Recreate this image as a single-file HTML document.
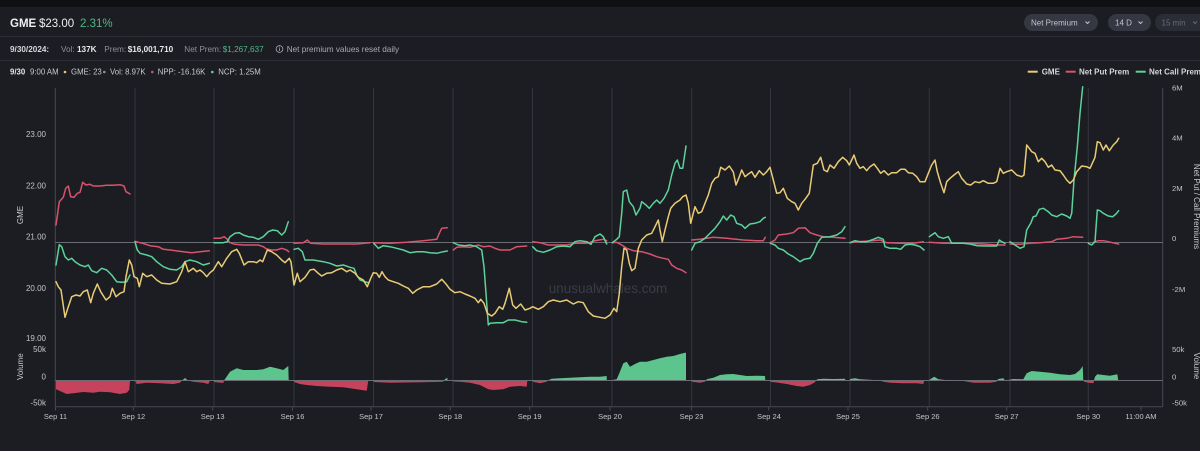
<!DOCTYPE html>
<html><head><meta charset="utf-8"><style>
html,body{margin:0;padding:0;background:#1b1d22;}
svg{display:block;font-family:"Liberation Sans",sans-serif;}
</style></head><body>
<svg width="1200" height="451" viewBox="0 0 1200 451" xmlns="http://www.w3.org/2000/svg">
<rect x="0" y="0" width="1200" height="451" fill="#1b1d22"/>
<rect x="0" y="0" width="1200" height="7" fill="#0f1013"/>
<line x1="0" y1="36.5" x2="1200" y2="36.5" stroke="#2b2e35" stroke-width="1"/>
<line x1="0" y1="60.5" x2="1200" y2="60.5" stroke="#2b2e35" stroke-width="1"/>

<!-- header row 1 -->
<text x="10" y="27" font-size="11.5" fill="#eceef1" font-weight="bold">GME</text>
<text x="39" y="27" font-size="11.5" fill="#eceef1">$23.00</text>
<text x="80" y="27" font-size="11.5" fill="#4fb987">2.31%</text>

<!-- pills -->
<rect x="1024" y="14" width="74" height="17" rx="8.5" fill="#353843"/>
<text x="1031" y="25.6" font-size="8" fill="#c3c5cb">Net Premium</text>
<path d="M1085.5 21.5 l2 2 l2 -2" stroke="#c3c5cb" stroke-width="1" fill="none"/>
<rect x="1108" y="14" width="43" height="17" rx="8.5" fill="#353843"/>
<text x="1115" y="25.6" font-size="8" fill="#c3c5cb">14 D</text>
<path d="M1138.5 21.5 l2 2 l2 -2" stroke="#c3c5cb" stroke-width="1" fill="none"/>
<rect x="1155" y="14" width="52" height="17" rx="8.5" fill="#2a2d35"/>
<text x="1161.5" y="25.6" font-size="8" fill="#686b73">15 min</text>
<path d="M1193 21.5 l2 2 l2 -2" stroke="#686b73" stroke-width="1" fill="none"/>

<!-- header row 2 -->
<g font-size="8.2">
<text x="10" y="52" fill="#d4d6da" font-weight="bold">9/30/2024:</text>
<text x="61" y="52" fill="#8e9198">Vol:</text>
<text x="77" y="52" fill="#e6e7ea" font-weight="bold">137K</text>
<text x="104.3" y="52" fill="#8e9198">Prem:</text>
<text x="127.7" y="52" fill="#e6e7ea" font-weight="bold">$16,001,710</text>
<text x="184.3" y="52" fill="#8e9198">Net Prem:</text>
<text x="222.7" y="52" fill="#4fb987">$1,267,637</text>
<circle cx="279.5" cy="49" r="3.4" fill="none" stroke="#a8abb1" stroke-width="0.8"/>
<line x1="279.5" y1="48.3" x2="279.5" y2="51" stroke="#a8abb1" stroke-width="0.8"/>
<circle cx="279.5" cy="47" r="0.45" fill="#a8abb1"/>
<text x="286.7" y="52" fill="#a8abb1">Net premium values reset daily</text>
</g>

<!-- header row 3 -->
<g font-size="7.8">
<text x="10" y="74.7" fill="#e6e7ea" font-weight="bold">9/30</text>
<text x="30" y="74.7" fill="#c8cad0">9:00 AM</text>
<circle cx="65" cy="72" r="1.3" fill="#e9c873"/>
<text x="71" y="74.7" fill="#c8cad0">GME: 23</text>
<circle cx="104.3" cy="72" r="1.3" fill="#8e9198"/>
<text x="110" y="74.7" fill="#c8cad0">Vol: 8.97K</text>
<circle cx="152.3" cy="72" r="1.3" fill="#d9536d"/>
<text x="157.7" y="74.7" fill="#c8cad0">NPP: -16.16K</text>
<circle cx="212.3" cy="72" r="1.3" fill="#5dd29a"/>
<text x="218.3" y="74.7" fill="#c8cad0">NCP: 1.25M</text>
</g>

<!-- legend -->
<g font-size="8" font-weight="bold" fill="#d4d6da">
<line x1="1027.7" y1="71.7" x2="1037.7" y2="71.7" stroke="#eacb75" stroke-width="2"/>
<text x="1041.7" y="74.5">GME</text>
<line x1="1065.7" y1="71.7" x2="1075.7" y2="71.7" stroke="#d9536d" stroke-width="2"/>
<text x="1079" y="74.5">Net Put Prem</text>
<line x1="1135.7" y1="71.7" x2="1145.7" y2="71.7" stroke="#5dd29a" stroke-width="2"/>
<text x="1149" y="74.5">Net Call Prem</text>
</g>

<!-- gridlines -->
<g stroke="#33363d" stroke-width="1">
<line x1="135" y1="88" x2="135" y2="406.7"/>
<line x1="214" y1="88" x2="214" y2="406.7"/>
<line x1="294" y1="88" x2="294" y2="406.7"/>
<line x1="373.5" y1="88" x2="373.5" y2="406.7"/>
<line x1="453" y1="88" x2="453" y2="406.7"/>
<line x1="532.5" y1="88" x2="532.5" y2="406.7"/>
<line x1="612" y1="88" x2="612" y2="406.7"/>
<line x1="691.7" y1="88" x2="691.7" y2="406.7"/>
<line x1="770.5" y1="88" x2="770.5" y2="406.7"/>
<line x1="850" y1="88" x2="850" y2="406.7"/>
<line x1="929.3" y1="88" x2="929.3" y2="406.7"/>
<line x1="1010" y1="88" x2="1010" y2="406.7"/>
<line x1="1088.3" y1="88" x2="1088.3" y2="406.7"/>
</g>
<g stroke="#474a52" stroke-width="1">
<line x1="55.3" y1="88" x2="55.3" y2="406.7"/>
<line x1="1162.7" y1="88" x2="1162.7" y2="406.7"/>
<line x1="55.3" y1="406.7" x2="1162.7" y2="406.7"/>
</g>

<!-- watermark -->
<text x="608" y="293" font-size="13.5" fill="#3a3d45" text-anchor="middle">unusualwhales.com</text>

<!-- zero lines -->
<line x1="55.3" y1="242.5" x2="1162.7" y2="242.5" stroke="#6a6d74" stroke-width="1"/>

<!-- volume areas -->
<g fill="#c6435d">
<polygon points="56,380.5 56,389.3 60,391 66.7,394 73.3,393.3 83.3,392 93.3,392.7 100,391.7 110,392.3 120,394 126.7,392.7 129.3,390 130,380.5"/>
<polygon points="135,380.5 136.7,384 146.7,382.7 160,383.3 173.3,384 180,382.7 182,380.5"/>
<polygon points="188,380.5 193.3,381.7 203.3,382.7 208.3,384 210,380.5"/>
<polygon points="214,380.5 214,382 223.3,383 224,380.5"/>
<polygon points="294,380.5 294,382 300,384 306.7,385 316.7,386 330,386.7 343.3,387.3 356.7,389.3 366.7,390.7 368.3,380.5"/>
<polygon points="373.7,380.5 373.7,382 390,382.7 423.3,382.3 443.3,381.7 444,380.5"/>
<polygon points="453.3,380.5 453.3,381.5 460,381.7 470,382.7 480,385 488.3,389.3 493.3,390 503.3,389.3 510,386.7 520,386 526.7,386.7 527.3,380.5"/>
<polygon points="532.7,380.5 532.7,381.7 540,383.3 546.7,381.7 547.5,380.5"/>
<polygon points="691.7,380.5 691.7,381.7 700,382.7 705,381.7 706,380.5"/>
<polygon points="770.3,380.5 770.3,381.7 778.3,382.7 786.7,384 796.7,386 803.3,386.7 810,385 815,382.3 816,380.5"/>
<polygon points="880,380.5 883.3,381.7 890,382.7 903.3,383.3 916.7,383.3 923.3,384 924.3,380.5"/>
<polygon points="955,380.5 963.3,381 973.3,382.7 990,382.7 996.7,381.7 997,380.5"/>
<polygon points="1084,380.5 1084,381.7 1088.3,382.7 1093.3,383.3 1094,380.5"/>
</g>
<g fill="#5ec48d">
<polygon points="182,380.5 185,378 188,380.5"/>
<polygon points="224,380.5 230,371.7 236.7,368.3 243.3,370 256.7,370 263.3,369.3 270,366.7 276.7,368.3 283.3,370 286.7,367.3 288.3,366 288.7,380.5"/>
<polygon points="444,380.5 445,379.3 447.3,377.7 447.5,380.5"/>
<polygon points="547.5,380.5 551.7,378.7 560,378.3 570,377.7 580,377.3 590,376.7 600,376.7 606.7,376 606.7,380.5"/>
<polygon points="612.3,380.5 612.3,380 616.7,379.3 619.3,373.3 623.3,363.3 626.7,361.7 630,366.7 635,364 640,361.7 646.7,361.7 653.3,360 660,358.3 666.7,356.7 673.3,356 680,354 685,352.7 686,352.7 686,380.5"/>
<polygon points="706,380.5 706.7,379.3 713.3,377.7 720,375 726.7,374.3 733.3,374 740,375 746.7,376 756.7,375.7 765,376 765.3,380.5"/>
<polygon points="816,380.5 817.3,379.3 823.3,378.7 833.3,379 845,378.7 845.5,380.5"/>
<polygon points="850,380.5 850,379 855,378.3 860,379.3 873.3,380 874,380.5"/>
<polygon points="929.3,380.5 929.3,380 931.7,378.3 934.3,376.7 938.3,379.3 945,380 946,380.5"/>
<polygon points="997,380.5 998.3,379 1003.3,378.3 1005,380.5"/>
<polygon points="1008.3,380.5 1008.3,380 1013.3,379 1023.3,379.3 1026.7,373.3 1031.7,371 1040,371.7 1050,372.7 1060,374.3 1070,375 1075,374 1080,370 1082.7,366 1083.3,380.5"/>
<polygon points="1094,380.5 1095,376.7 1097.3,374.3 1103.3,375 1110,375.7 1117.3,374.3 1118.3,380.5"/>
</g>
<line x1="55.3" y1="380.5" x2="1162.7" y2="380.5" stroke="#6a6d74" stroke-width="1"/>

<!-- series -->
<g fill="none" stroke-width="1.5" stroke-linejoin="round" stroke-linecap="round">
<g stroke="#d9536d">
<polyline points="56,225 59.3,201.7 63.3,197.3 65.7,188.3 68.3,186 70.7,196.7 74,197.3 77.3,193.3 80,192.3 82.7,182.3 86,185 90,184.3 93.3,186 100,186 106.7,185.3 113.3,185.3 120,184.7 124,186 126,191.7 130,194"/>
<polyline points="135,241.3 140,242.7 145,244 150,245.7 158.3,246.7 163.3,249.3 170,250 183.3,251.7 191.7,252.7 200,251.7 209.3,250.7"/>
<polyline points="214,238.3 220,238.3 224.3,236.7 227.3,239.3 230,242.7 235,244.3 243.3,245 258.3,245 263.3,246.7 266.7,249 271.7,250 276.7,250 281.7,248.3 286.7,250 288.7,251.7"/>
<polyline points="294,243.3 303.3,242.7 307.3,240 310.7,243.3 323.3,244 340,244 356.7,244 370,242.7"/>
<polyline points="373.7,242.7 390,243.3 406.7,242.3 423.3,240.7 436.7,239.3 439.3,233.3 441.7,228.3 447.3,227.7"/>
<polyline points="453.3,250 456.7,247.3 463.3,246.7 470,247.3 478.3,245 483.3,246.7 490,246 495,248.3 500,250 510,250 516.7,246.7 526.7,246"/>
<polyline points="532.7,241.7 540,242.7 548.3,245 556.7,245 566.7,245 575,243.3 586.7,243.3 595,240.7 603.3,239.3 606.7,240.7"/>
<polyline points="612.3,242.7 616.7,242.3 621.7,245 626.7,248.3 633.3,250.7 641.7,251.7 650,254 656.7,256.7 663.3,258.3 668.3,259.3 671.7,265 676.7,268.3 681.7,270 686,272.7"/>
<polyline points="691.7,240 700,239.3 713.3,237.3 726.7,238.3 743.3,240 756.7,240.7 763.3,240.7 765.3,237.3"/>
<polyline points="770.3,242.7 775,240 778.3,235 786.7,234 793.3,232.7 798.3,228.3 805,227.7 810,232.7 816.7,235 823.3,236.7 833.3,237.3 845,238.3"/>
<polyline points="850,242.7 856.7,241.7 870,241 880,240 886.7,242.7 900,243.3 913.3,243.3 923.3,241.7"/>
<polyline points="929.3,242.3 943.3,243.3 963.3,243.3 983.3,244 996.7,245 1005,245"/>
<polyline points="1010,244 1020,244.3 1030,243.3 1040,242.7 1051.7,241.7 1056.7,239.3 1066.7,238.3 1073.3,236.7 1082.7,237.3"/>
<polyline points="1093.3,242.3 1098.3,240.7 1103.3,240.7 1108.3,241.7 1115,243.3 1118.7,244"/>
</g>
<g stroke="#5dd29a">
<polyline points="56,265 59.3,244.7 61.7,246.7 65,256.7 68.3,260 71.7,258.3 75,261.7 80,265 85,266.7 88.3,265 91.7,270.7 96.7,272.7 101.7,268.3 106.7,270 111.7,275 116.7,281.7 121.7,282.3 126.7,281.7 128.3,278.3 130,275"/>
<polyline points="135,241.7 137.3,250 140,253.3 146.7,255 151.7,256.7 156.7,261.7 163.3,266.7 170,269.3 176.7,270 181.7,266.7 185,261.7 190,260 196.7,261.7 203.3,265 209.3,263.3"/>
<polyline points="214,242.7 223.3,242.7 227.3,241.7 230,236.7 235,233.3 239.3,232.7 243.3,235 248.3,236.7 253.3,237.3 258.3,239.3 263.3,236.7 268.3,231.7 272.7,230 277.3,230.7 281.7,235 285,231.7 288.3,221.7"/>
<polyline points="294,249.3 298.3,248.3 302.3,251.7 305,260 313.3,260 323.3,261.7 330,263.3 336.7,266 343.3,265 350,267.3 354,268.3 356.7,275 360,280 365,281.7 368.3,282.7"/>
<polyline points="373.7,243.3 378.3,248.3 383.3,245.7 390,246.7 396.7,248.3 403.3,250 410,252.7 416.7,251.7 423.3,251.7 430,252.7 436.7,253.3 443.3,251.7 447.3,251"/>
<polyline points="453.3,242.7 458.3,245 465,245.7 470,245 476.7,246.7 481.7,250 484,266.7 486,293.3 488.3,325 490,323.3 496.7,322.7 503.3,322.7 508.3,320 515,320 521.7,321.7 526.7,322.3"/>
<polyline points="532.7,246.7 536.7,250.7 543.3,252.3 550,250 556.7,246.7 563.3,246 570,246.7 575,241.7 580,240.7 586.7,241.7 591,244.3 595,236.7 600,234 603.3,236.7 606.7,244"/>
<polyline points="612.3,242.7 616.7,239.3 619.3,236.7 621.7,213.3 623.3,191.7 626.7,190 629.3,201.7 633.3,206.7 636,215 640,208.3 641.7,201.7 646,205 649.3,208.3 653.3,203.3 656.7,200 660,203.3 664,198.3 668.3,190 671.7,175 675,163.3 677.3,160 680,168.3 682.7,168.3 686,146"/>
<polyline points="691.7,250 695,243.3 700,241.7 705,238.3 710,233.3 715,228.3 720,221.7 723.3,216 726.7,220 730.7,215 734,216.7 736.7,223.3 741.7,225 745,228.3 750,224 755,223.3 760,221.7 763.3,218.3 765.3,217.3"/>
<polyline points="770.3,243.3 775,245 778.3,248.3 783.3,250 788.3,254 793.3,256.7 800,261.7 804,259.3 810,258.3 813.3,253.3 817.3,243.3 821.7,237.3 830,236.7 836.7,235 841.7,231.7 845,226.7"/>
<polyline points="850,242.7 855,240.7 860,241.7 866.7,241.7 873.3,239.3 878.3,237.3 883.3,239.3 885,246.7 890,248.3 896.7,248.3 900.7,249.3 905,245 910,244.3 915,245 920,246.7 924,250"/>
<polyline points="929.3,236.7 931.7,235 935,232.7 938.3,236.7 943.3,238.3 948.3,236.7 951.7,243.3 956.7,243.3 963.3,243.3 970,244 976.7,245.7 986.7,246 996.7,246 999.3,240 1001.7,241.7 1005,243.3"/>
<polyline points="1010,241.7 1015,245 1020,248.3 1024,246.7 1026.7,230 1030.7,223.3 1033.3,216.7 1036,216 1039.3,209.3 1043.3,208.3 1048.3,211.7 1051.7,215 1056.7,216.7 1061.7,214 1066.7,216 1070,218.3 1071.7,213.3 1074,180 1077.3,146.7 1080,113.3 1082.7,86.7"/>
<polyline points="1088.3,243.3 1091.7,245 1095,241.7 1097.3,210 1100,210.7 1103.3,213.3 1108.3,216 1112.7,216.7 1116,214 1118.7,210.7"/>
</g>
<polyline stroke="#eacb75" points="56,281.7 58.3,286.7 61,290 65,317.3 68.3,306.7 71.7,296.7 76,295 80,296 83.3,291.7 87.3,290 90.7,302.7 93.3,293.3 97.3,284 100.7,291.7 106,300 110,296.7 112.3,288.3 116,296.7 120,293.3 124,291.7 126,276.7 129.3,260 131.7,265 134,276.7 137.3,278.3 139.3,286.7 142.7,273.3 146.7,276.7 151.7,275 156.7,280 161.7,283.3 170,284 176.7,281.7 181.7,271.7 185,261.7 188.3,271.7 193.3,268.3 196.7,271.7 200,270 203.3,272.7 206.7,276.7 210,272.7 213.3,270 218.3,261.7 221.7,266.7 226.7,258.3 231.7,251.7 236.7,249.3 239.3,253.3 244,265 248.3,261.7 253.3,261.7 256.7,262.7 260,260 262.7,261.7 267.3,250 271.7,251.7 276.7,255 281.7,260 285,262.7 289.3,258.3 291,262 294,285 297.3,273.3 300,281.7 305,277.3 310,270 314,269.3 318.3,273.3 321.7,276 326.7,273.3 331.7,272.7 336.7,270 341.7,268.3 346.7,271.7 350,270 355,273.3 358.3,277.3 363.3,280 367.3,286.7 370.7,278.3 373.3,272.7 376.7,273.3 379.3,277.3 382,271.7 385,276.7 388.3,280 393.3,281.7 398.3,283.3 403.3,286 408.3,288.3 412.7,293.3 416.7,290 420,288.3 423.3,286.7 430,286.7 436.7,284 441.7,279.3 446,284 450,289.3 455,292.7 460,291.7 465,294 470,296 475,298.3 478.3,302.7 480.7,299.3 484,303.3 487.3,313.3 491.7,316 495,313.3 499.3,306.7 502.7,309.3 505,303.3 509.3,288.3 512.7,305 516,308.3 520.7,304 525,310 530,308.3 532.7,306.7 538.3,309.3 543.3,306.7 548.3,301.7 553.3,300 560,301.7 566.7,300 573.3,304 578.3,301.7 583.3,302.7 588.3,311.7 593.3,316 600,317.3 605,318.3 610,315 614,308.3 616.7,311.7 619.3,293.3 621.7,266.7 624,248.3 626.7,250 629.3,263.3 631.7,270.7 635,268.3 638.3,248.3 641.7,240 646.7,235 651.7,233.3 655,226.7 658.3,220 660,230 662.3,241.7 665,230 668.3,216.7 670.7,208.3 675,203.3 680,200 682.7,196.7 686,195 688.3,203.3 690.7,223.3 695,206.7 698.3,213.3 701.7,211.7 705,203.3 708.3,195 711.7,183.3 715,178.3 718.3,176.7 720.7,167.3 725,170 729.3,166 733.3,172 736,185 739.3,176.7 741.7,170 745,176.7 748.3,174 751.7,171.7 755,177.3 759.3,170.7 763.3,175 766.7,171.7 770,167.3 773.3,180 776.7,193.3 780,192.7 783.3,188.3 787.3,198.3 791.7,201.7 795,203.3 798.3,210 801.7,203.3 805,199.3 809.3,193.3 813.3,165 817.3,163.3 820.7,157.3 824,170 827.3,171.7 830,165 834,168.3 838.3,161.7 842.7,157.3 846.7,160.7 849.3,165 851.7,160 854,155 856.7,163.3 860,168.3 863.3,166.7 866.7,170.7 870,166.7 874,164 877.3,168.3 880.7,173.3 884,170.7 888.3,175 891.7,172.7 896.7,172.7 900.7,169.3 905,169.3 908.3,172.7 912.7,173.3 916.7,176.7 920,181.7 925,181.7 928.3,173.3 931.7,165 935,160 937.3,171.7 940.7,183.3 944,192.7 946.7,181.7 950,178.3 954,175 958.3,171.7 961.7,178.3 966.7,184 970.7,185 975,181.7 979.3,182.7 983.3,180.7 988.3,183.3 993.3,183.3 996.7,181.7 1000,168.3 1003.3,173.3 1006.7,171.7 1011.7,170 1016.7,175 1021.7,176.7 1024,175 1026.7,145 1029.3,148.3 1031.7,151.7 1035,153.3 1038.3,161.7 1041.7,158.3 1045,161.7 1048.3,167.3 1051.7,165 1055,170 1060,170.7 1063.3,175 1066.7,180 1070,183.3 1073.3,180 1076.7,171.7 1081.7,166 1086.7,166.7 1090,168.3 1095,157.3 1097.3,141.7 1100,142.7 1103.3,150 1106,145 1109.3,150.7 1113.3,145 1116.7,141.7 1118.7,138.3"/>
</g>

<!-- left axis labels -->
<g font-size="8" fill="#c3c5cb" text-anchor="end">
<text x="46" y="137">23.00</text>
<text x="46" y="188.5">22.00</text>
<text x="46" y="239.5">21.00</text>
<text x="46" y="291">20.00</text>
<text x="46" y="341">19.00</text>
<text x="46" y="352">50k</text>
<text x="46" y="379.5">0</text>
<text x="46" y="405.5">-50k</text>
</g>
<!-- right axis labels -->
<g font-size="7.7" fill="#c3c5cb">
<text x="1172" y="90.5">6M</text>
<text x="1172" y="140.5">4M</text>
<text x="1172" y="191">2M</text>
<text x="1172" y="241">0</text>
<text x="1172" y="291.8">-2M</text>
<text x="1172" y="352">50k</text>
<text x="1172" y="379.5">0</text>
<text x="1172" y="405.5">-50k</text>
</g>
<!-- rotated titles -->
<g font-size="8" fill="#c8cad0" text-anchor="middle">
<text transform="translate(23,215) rotate(-90)">GME</text>
<text transform="translate(23,366.7) rotate(-90)">Volume</text>
<text transform="translate(1194,206.5) rotate(90)">Net Put / Call Premiums</text>
<text transform="translate(1194,366) rotate(90)">Volume</text>
</g>

<!-- x ticks -->
<g stroke="#474a52" stroke-width="1">
<line x1="55.5" y1="406.7" x2="55.5" y2="410.5"/>
<line x1="133.3" y1="406.7" x2="133.3" y2="410.5"/>
<line x1="212.7" y1="406.7" x2="212.7" y2="410.5"/>
<line x1="292.5" y1="406.7" x2="292.5" y2="410.5"/>
<line x1="371" y1="406.7" x2="371" y2="410.5"/>
<line x1="450.3" y1="406.7" x2="450.3" y2="410.5"/>
<line x1="529.7" y1="406.7" x2="529.7" y2="410.5"/>
<line x1="610" y1="406.7" x2="610" y2="410.5"/>
<line x1="691.3" y1="406.7" x2="691.3" y2="410.5"/>
<line x1="768.7" y1="406.7" x2="768.7" y2="410.5"/>
<line x1="848" y1="406.7" x2="848" y2="410.5"/>
<line x1="927.7" y1="406.7" x2="927.7" y2="410.5"/>
<line x1="1006.7" y1="406.7" x2="1006.7" y2="410.5"/>
<line x1="1088.3" y1="406.7" x2="1088.3" y2="410.5"/>
<line x1="1141" y1="406.7" x2="1141" y2="410.5"/>
</g>
<g font-size="7.5" fill="#c3c5cb" text-anchor="middle">
<text x="55.5" y="419">Sep 11</text>
<text x="133.3" y="419">Sep 12</text>
<text x="212.7" y="419">Sep 13</text>
<text x="292.5" y="419">Sep 16</text>
<text x="371" y="419">Sep 17</text>
<text x="450.3" y="419">Sep 18</text>
<text x="529.7" y="419">Sep 19</text>
<text x="610" y="419">Sep 20</text>
<text x="691.5" y="419">Sep 23</text>
<text x="769" y="419">Sep 24</text>
<text x="848" y="419">Sep 25</text>
<text x="927.7" y="419">Sep 26</text>
<text x="1006.7" y="419">Sep 27</text>
<text x="1088.3" y="419">Sep 30</text>
<text x="1141" y="419">11:00 AM</text>
</g>
</svg>
</body></html>
